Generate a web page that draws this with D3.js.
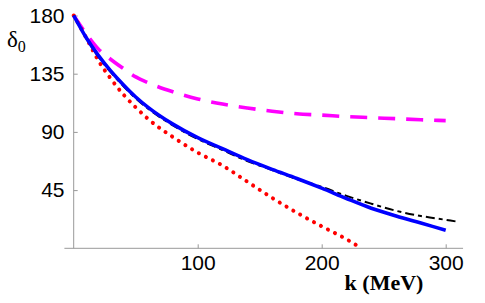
<!DOCTYPE html>
<html>
<head>
<meta charset="utf-8">
<script src="https://cdn.jsdelivr.net/npm/d3@7"></script>
<style>
  body { margin: 0; background: #fff; }
  .tick text { font-family: "Liberation Sans", Arial, sans-serif; font-size: 21px; fill: #000; }
  .tick line { stroke: #999; }
  .axisline { stroke: #999; stroke-width: 1; }
</style>
</head>
<body>
<div class="chart"></div>
<script>
// k (MeV) grid and phase shifts (degrees)
const kMain = [0, 10, 20, 30, 40, 50, 60, 80, 100, 120, 140, 160, 180, 200, 220, 240, 260, 280, 300];
const blueVals = [180, 163, 149, 137, 126.5, 117, 109, 96, 85.5, 77, 68.5, 61, 54, 46.5, 38.5, 31, 25, 19.5, 14];
const magentaVals = [180, 166, 154, 146, 139, 132.5, 128, 121, 115.5, 111.5, 108.5, 106, 104, 103, 101.8, 101, 100.2, 99.4, 98.7];
const blackK = [0, 10, 20, 30, 40, 50, 60, 80, 100, 120, 140, 160, 180, 200, 220, 240, 260, 280, 300, 308];
const blackVals = [180, 162.5, 148, 136, 125.5, 116, 108, 95, 84.5, 76, 67.5, 60.5, 53.5, 47.5, 40.5, 34.5, 29, 25, 22, 20.8];
const redK = [0, 10, 20, 30, 40, 50, 60, 80, 100, 120, 140, 160, 180, 200, 220, 232];
const redVals = [180, 163, 145, 131, 119, 109, 100, 86, 74, 64, 51.5, 39, 27.5, 17, 7, 0];
const xTicks = [100, 200, 300];
const yTicks = [45, 90, 135, 180];

let chart = {
  svg: {},
  x: {},
  y: {},
  config: { w: 485, h: 303 },
  init: function () {
    this.svg = d3.select('.chart').append('svg')
      .attr('width', this.config.w)
      .attr('height', this.config.h);
    this.x = d3.scaleLinear().domain([0, 300]).range([73.7, 445.7]);
    this.y = d3.scaleLinear().domain([0, 180]).range([248.3, 15.5]);
    this.axes();
    this.curves();
  },
  axes: function () {
    let x = this.x, y = this.y;
    // axis lines (x axis runs a little past the y axis, mathematica style)
    this.svg.append('line').attr('class', 'axisline')
      .attr('x1', x(-7.5)).attr('x2', x(314)).attr('y1', y(0)).attr('y2', y(0));
    this.svg.append('line').attr('class', 'axisline')
      .attr('x1', x(0)).attr('x2', x(0)).attr('y1', y(0)).attr('y2', y(180));

    let xAxis = d3.axisBottom(x).tickValues(xTicks).tickSizeInner(-4).tickSizeOuter(0).tickPadding(7);
    let gx = this.svg.append('g')
      .attr('transform', `translate(0, ${y(0)})`)
      .call(xAxis);
    gx.select('.domain').remove();

    let yAxis = d3.axisLeft(y).tickValues(yTicks).tickSizeInner(-4).tickSizeOuter(0).tickPadding(9.2);
    let gy = this.svg.append('g')
      .attr('transform', `translate(${x(0)}, 0)`)
      .call(yAxis);
    gy.select('.domain').remove();

    // axis names
    this.svg.append('text')
      .attr('x', 384).attr('y', 290)
      .attr('text-anchor', 'middle')
      .style('font-family', '"Liberation Serif", "Times New Roman", serif')
      .style('font-weight', 'bold')
      .style('font-size', '22px')
      .text('k (MeV)');
    let lab = this.svg.append('text')
      .attr('x', 7).attr('y', 47)
      .style('font-family', '"Liberation Serif", "Times New Roman", serif')
      .style('font-size', '23px');
    lab.append('tspan').text('δ');
    lab.append('tspan').attr('dy', 5).style('font-size', '16px').text('0');
  },
  curves: function () {
    let x = this.x, y = this.y;
    let line = d3.line()
      .x(d => x(d[0]))
      .y(d => y(d[1]))
      .curve(d3.curveMonotoneX);
    let series = [
      { k: kMain, v: magentaVals, color: '#ff00ff', w: 3.6, dash: '17,11', cap: 'butt' },
      { k: redK, v: redVals, color: '#ff0000', w: 4, dash: '0.1,7.8', cap: 'round' },
      { k: blackK, v: blackVals, color: '#000', w: 2, dash: '9,4,4,4', cap: 'butt' },
      { k: kMain, v: blueVals, color: '#0000ff', w: 3.6, dash: null, cap: 'butt' }
    ];
    this.svg.append('g').attr('class', 'curves')
      .selectAll('path')
      .data(series)
      .enter()
      .append('path')
      .attr('d', s => line(s.k.map((k, i) => [k, s.v[i]])))
      .attr('fill', 'none')
      .attr('stroke', s => s.color)
      .attr('stroke-width', s => s.w)
      .attr('stroke-dasharray', s => s.dash)
      .attr('stroke-linecap', s => s.cap);
  }
};

chart.init();
</script>
</body>
</html>
